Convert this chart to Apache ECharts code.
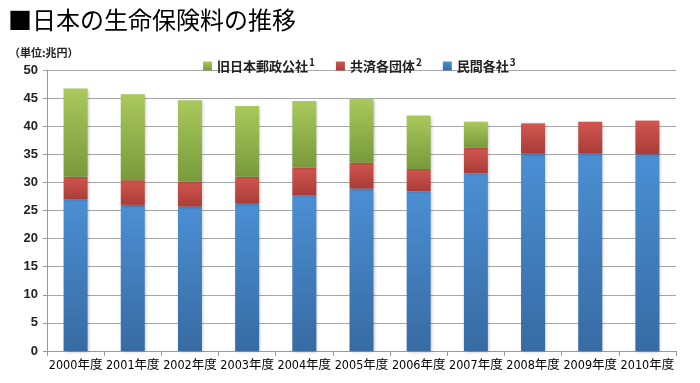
<!DOCTYPE html>
<html><head><meta charset="utf-8">
<script src="https://cdn.jsdelivr.net/npm/echarts@6/dist/echarts.min.js"></script>
<style>html,body{margin:0;padding:0;background:#fff}#c{width:700px;height:383px}</style>
</head><body><div id="c"></div>
<script>
const categories = ['2000年度','2001年度','2002年度','2003年度','2004年度','2005年度','2006年度','2007年度','2008年度','2009年度','2010年度'];
const seriesNames = ['旧日本郵政公社','共済各団体','民間各社'];
const postal = [15.7,15.3,14.5,12.6,11.9,11.4,9.5,4.6,0,0,0];
const mutual = [4.0,4.4,4.4,4.8,4.9,4.6,4.0,4.6,5.4,5.7,6.0];
const privateCo = [27.0,26.0,25.7,26.2,27.7,28.9,28.4,31.6,35.1,35.1,35.0];
const yTicks = {min:0,max:50,interval:5};
const sup = {'旧日本郵政公社':'1','共済各団体':'2','民間各社':'3'};

function grad(top, bottom){
  return new echarts.graphic.LinearGradient(0,0,0,1,[{offset:0,color:top},{offset:1,color:bottom}]);
}
const colors = {
  '民間各社': grad('#4b8fd4','#376ba3'),
  '共済各団体': grad('#d25650','#a93c37'),
  '旧日本郵政公社': grad('#a9c95c','#789a3b')
};

const chart = echarts.init(document.getElementById('c'));
function mk(name, data){
  return {
    name, type:'bar', stack:'total', data, barWidth:24,
    itemStyle:{color:colors[name], shadowColor:'rgba(0,0,0,0.25)', shadowBlur:3, shadowOffsetX:1, shadowOffsetY:1},
    emphasis:{disabled:true}
  };
}
chart.setOption({
  animation:false,
  title:[
    {text:'■日本の生命保険料の推移', left:3, top:3, textStyle:{fontFamily:'Noto Sans CJK JP', fontSize:24, fontWeight:'normal', color:'#000'}},
    {text:'（単位:兆円）', left:4, top:42, textStyle:{fontFamily:'Noto Sans CJK JP', fontSize:11, fontWeight:'bold', color:'#222'}}
  ],
  legend:{
    data:seriesNames, left:198, top:52, itemWidth:9, itemHeight:9, itemGap:21, icon:'rect',
    formatter: n => n + '{s|' + sup[n] + '}',
    textStyle:{fontFamily:'Noto Sans CJK JP', fontSize:13, fontWeight:'bold', color:'#222',
      rich:{s:{fontSize:10, fontWeight:'bold', verticalAlign:'top', padding:[0,0,8,1], fontFamily:'Noto Sans CJK JP'}}},
    selectedMode:false
  },
  grid:{left:47, right:24, top:70, bottom:32},
  xAxis:{
    type:'category', data:categories,
    axisLine:{lineStyle:{color:'#999'}},
    axisTick:{show:true, alignWithLabel:false, length:5, lineStyle:{color:'#999'}},
    axisLabel:{interval:0, fontFamily:'DejaVu Sans Condensed, Noto Sans CJK JP', fontSize:12.5, color:'#000', margin:8}
  },
  yAxis:{
    type:'value', min:yTicks.min, max:yTicks.max, interval:yTicks.interval,
    axisLine:{show:true, lineStyle:{color:'#999'}},
    axisTick:{show:true, length:4, lineStyle:{color:'#999'}},
    splitLine:{lineStyle:{color:'#a6a6a6'}},
    axisLabel:{fontFamily:'Liberation Sans, Noto Sans', fontSize:13, fontWeight:'bold', color:'#222', margin:9}
  },
  series:[mk('民間各社', privateCo), mk('共済各団体', mutual), mk('旧日本郵政公社', postal)]
});
</script></body></html>
